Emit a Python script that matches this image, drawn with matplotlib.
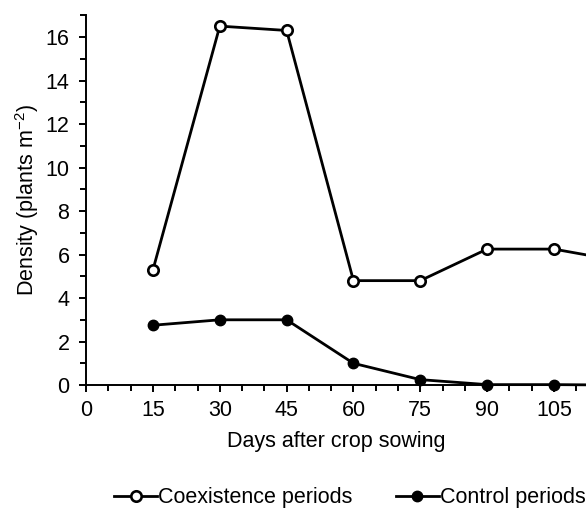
import numpy as np
import matplotlib.pyplot as plt
from matplotlib.ticker import MultipleLocator

plt.rcParams['font.family'] = ['Liberation Sans', 'DejaVu Sans']

days = [15, 30, 45, 60, 75, 90, 105, 120]
coexistence = [5.3, 16.5, 16.3, 4.8, 4.8, 6.25, 6.25, 5.7]
control = [2.75, 3.0, 3.0, 1.0, 0.25, 0.02, 0.02, 0.0]

fs = 15.5

fig = plt.figure(figsize=(5.86, 5.08), dpi=100)
ax = fig.add_axes([0.147, 0.242, 0.853, 0.728])

ax.plot(days, coexistence, '-o', color='black', lw=2.0, ms=7.5,
        mfc='white', mec='black', mew=1.9, label='Coexistence periods')
ax.plot(days, control, '-o', color='black', lw=2.0, ms=7.5,
        mfc='black', mec='black', label='Control periods', clip_on=False)

ax.set_xlim(0, 112.2)
ax.set_ylim(0, 17)
ax.xaxis.set_major_locator(MultipleLocator(15))
ax.xaxis.set_minor_locator(MultipleLocator(5))
ax.yaxis.set_major_locator(MultipleLocator(2))
ax.yaxis.set_minor_locator(MultipleLocator(1))

for s in ['top', 'right']:
    ax.spines[s].set_visible(False)
for s in ['left', 'bottom']:
    ax.spines[s].set_linewidth(1.4)

ax.tick_params(which='major', direction='out', length=5, width=1.4, labelsize=fs, colors='black')
ax.tick_params(which='minor', direction='out', length=4.5, width=1.4)
ax.tick_params(axis='y', pad=7)
ax.tick_params(axis='x', pad=6)

ax.set_xlabel('Days after crop sowing', fontsize=fs, labelpad=7)
ax.set_ylabel('Density (plants m$^{\\mathregular{-2}}$)', fontsize=fs, labelpad=3)

fig.legend(loc='center', bbox_to_anchor=(0.597, 0.02), ncol=2, frameon=False,
           fontsize=fs, handlelength=2.0, handletextpad=0.05, columnspacing=2.0)

fig.savefig('out.png', dpi=100)
